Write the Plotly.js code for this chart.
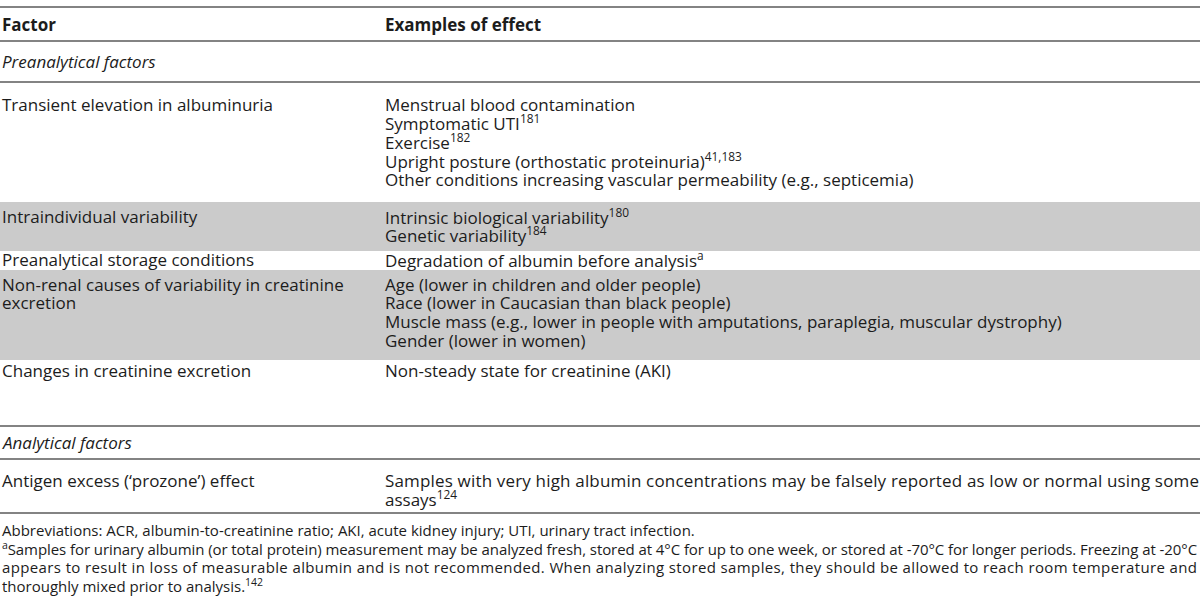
<!DOCTYPE html>
<html>
<head>
<meta charset="utf-8">
<script src="https://cdn.plot.ly/plotly-3.0.1.min.js"></script>
<style>html,body{margin:0;padding:0;background:#fff;}#chart{width:1200px;height:601px;}</style>
</head>
<body>
<div id="chart"></div>
<script>
// ---- table content ----
const headers = ["Factor", "Examples of effect"];
const sections = ["Preanalytical factors", "Analytical factors"];
const preFactors = [
  "Transient elevation in albuminuria",
  "Intraindividual variability",
  "Preanalytical storage conditions",
  "Non-renal causes of variability in creatinine",
  "Changes in creatinine excretion"
];
const preFactorsCont = ["", "", "", "excretion", ""];
const preExamples = [
  ["Menstrual blood contamination", "Symptomatic UTI<sup>181</sup>", "Exercise<sup>182</sup>",
   "Upright posture (orthostatic proteinuria)<sup>41,183</sup>",
   "Other conditions increasing vascular permeability (e.g., septicemia)"],
  ["Intrinsic biological variability<sup>180</sup>", "Genetic variability<sup>184</sup>"],
  ["Degradation of albumin before analysis<sup>a</sup>"],
  ["Age (lower in children and older people)", "Race (lower in Caucasian than black people)",
   "Muscle mass (e.g., lower in people with amputations, paraplegia, muscular dystrophy)",
   "Gender (lower in women)"],
  ["Non-steady state for creatinine (AKI)"]
];
const preShaded = [false, true, false, true, false];
const anaFactors = ["Antigen excess (\u2018prozone\u2019) effect"];
const anaExamples = [["Samples with very high albumin concentrations may be falsely reported as low or normal using some", "assays<sup>124</sup>"]];
const anaJustified = [true, false];
const notes = [
  "Abbreviations: ACR, albumin-to-creatinine ratio; AKI, acute kidney injury; UTI, urinary tract infection.",
  "<sup>a</sup>Samples for urinary albumin (or total protein) measurement may be analyzed fresh, stored at 4\u00B0C for up to one week, or stored at -70\u00B0C for longer periods. Freezing at -20\u00B0C",
  "appears to result in loss of measurable albumin and is not recommended. When analyzing stored samples, they should be allowed to reach room temperature and",
  "thoroughly mixed prior to analysis.<sup>142</sup>"
];
const notesJustified = [false, true, true, false];

// ---- layout constants ----
const W = 1200, H = 601;
const col1 = 0, col2 = 383;
const lineH = 18.75;
const FONT = "Open Sans, sans-serif";
const SIZE = 17, NOTE_SIZE = 15;
const TXT = "#1c1c1c";
const preRowY = [104, 216, 259, 284, 370];
const bandBounds = [[202, 251], [270, 360]];
const rules = [7, 41, 82, 426, 459, 513];

const annotations = [];
const shapes = [];
const justify = [];
function txt(x, y, s, opts) {
  opts = opts || {};
  annotations.push({
    x: x, y: y, xref: "x", yref: "y", text: s, showarrow: false,
    xanchor: "left", yanchor: "middle", align: "left",
    font: {family: FONT, size: opts.size || SIZE, color: TXT}
  });
  return annotations.length - 1;
}
// shaded bands
const bandRows = preShaded.map((s, i) => s ? i : -1).filter(i => i >= 0);
bandRows.forEach((r, k) => {
  shapes.push({type: "rect", xref: "x", yref: "y", x0: 0, x1: W, y0: bandBounds[k][0], y1: bandBounds[k][1],
    fillcolor: "#cbcbcb", line: {width: 0}, layer: "below"});
});
// rules
rules.forEach(y => {
  shapes.push({type: "line", xref: "x", yref: "y", x0: 0, x1: W, y0: y, y1: y,
    line: {color: "#5a5a5a", width: 1.6}});
});
// header
txt(col1, 24, "<b>" + headers[0] + "</b>");
txt(col2, 24, "<b>" + headers[1] + "</b>");
txt(col1, 61, "<i>" + sections[0] + "</i>");
// preanalytical rows
preFactors.forEach((f, i) => {
  const y0 = preRowY[i];
  txt(col1, y0, f);
  if (preFactorsCont[i]) txt(col1, y0 + lineH, preFactorsCont[i]);
  preExamples[i].forEach((e, j) => txt(col2, y0 + j * lineH, e));
});
// analytical
txt(col1, 442, "<i>" + sections[1] + "</i>");
anaFactors.forEach((f, i) => {
  txt(col1, 480, f);
  anaExamples[i].forEach((e, j) => {
    const k = txt(col2, 480 + j * 18.5, e);
    if (anaJustified[j]) justify.push([k, W - col2 - 3]);
  });
});
// notes
notes.forEach((n, i) => {
  const k = txt(col1, 530 + i * 18.6, n, {size: NOTE_SIZE});
  if (notesJustified[i]) justify.push([k, W - 5]);
});

Plotly.newPlot("chart", [{x: [0], y: [0], mode: "markers", marker: {opacity: 0}, hoverinfo: "skip", showlegend: false}], {
  width: W, height: H,
  margin: {l: 0, r: 0, t: 0, b: 0},
  paper_bgcolor: "#fff", plot_bgcolor: "#fff",
  xaxis: {range: [0, W], visible: false, fixedrange: true},
  yaxis: {range: [H, 0], visible: false, fixedrange: true},
  shapes: shapes, annotations: annotations, showlegend: false
}, {staticPlot: true, displayModeBar: false}).then(gd => {
  // justify paragraph lines to their column width
  const texts = gd.querySelectorAll("g.annotation text.annotation-text");
  justify.forEach(([k, w]) => {
    const t = texts[k];
    if (t) { t.setAttribute("textLength", String(w)); t.setAttribute("lengthAdjust", "spacing"); }
  });
});
</script>
</body>
</html>
